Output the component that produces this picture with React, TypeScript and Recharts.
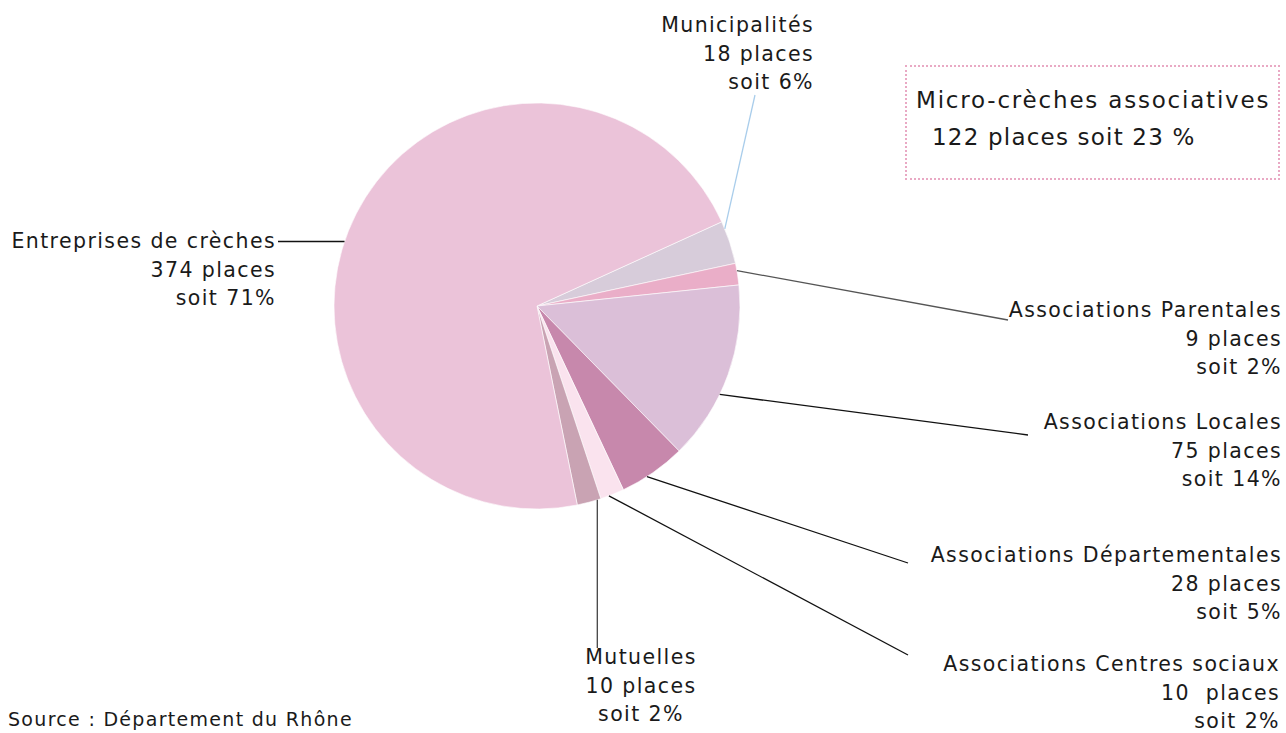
import { PieChart, Pie, Cell } from "recharts";

const names = [
  "Municipalités",
  "Associations Parentales",
  "Associations Locales",
  "Associations Départementales",
  "Associations Centres sociaux",
  "Mutuelles",
  "Entreprises de crèches",
];
const places = [18, 9, 75, 28, 10, 10, 374];
const placeLabels = ["18 places", "9 places", "75 places", "28 places", "10  places", "10 places", "374 places"];
const shareLabels = ["soit 6%", "soit 2%", "soit 14%", "soit 5%", "soit 2%", "soit 2%", "soit 71%"];
const colors = ["#D7CCDA", "#EAAEC8", "#DBBFD8", "#C788AC", "#FAE3EE", "#C9A3B3", "#EBC3D9"];

const data = names.map((name, i) => ({ name, value: places[i] }));

// label placement: text anchor, leader end, angle nudge; "h"/"v" keeps the leader straight
const labelLayout = [
  { x: 814, y: 25, anchor: "end", end: [755, 95], stroke: "#A9CDEB", shift: 4, mode: "" },
  { x: 1282, y: 310, anchor: "end", end: [1008, 320], stroke: "#555", shift: 1, mode: "" },
  { x: 1282, y: 422, anchor: "end", end: [1028, 435], stroke: "#111", shift: -6, mode: "" },
  { x: 1282, y: 555, anchor: "end", end: [908, 563], stroke: "#111", shift: -2, mode: "" },
  { x: 1280, y: 664, anchor: "end", end: [908, 655], stroke: "#111", shift: -1, mode: "" },
  { x: 641, y: 657, anchor: "middle", end: [597, 648], stroke: "#444", shift: 2.4, mode: "v" },
  { x: 276, y: 241, anchor: "end", end: [278, 241], stroke: "#111", shift: 8.5, mode: "h" },
];

const FONT = "'DejaVu Sans', sans-serif";
const RAD = Math.PI / 180;

function renderLabel(props: any) {
  const { cx, cy, midAngle, outerRadius, index } = props;
  const l = labelLayout[index];
  const a = (midAngle + l.shift) * RAD;
  const sx = cx + outerRadius * Math.cos(a);
  const sy = cy - outerRadius * Math.sin(a);
  const ex = l.mode === "v" ? sx : l.end[0];
  const ey = l.mode === "h" ? sy : l.end[1];
  const lines = [names[index], placeLabels[index], shareLabels[index]];
  return (
    <g>
      <line x1={sx} y1={sy} x2={ex} y2={ey} stroke={l.stroke} strokeWidth={1.3} />
      {lines.map((t, k) => (
        <text
          key={k}
          x={l.x}
          y={l.y + k * 28.6}
          textAnchor={l.anchor as any}
          dominantBaseline="central"
          fontFamily={FONT}
          fontSize={20.5}
          letterSpacing={1.4}
          fill="#1a1a1a"
          style={{ whiteSpace: "pre" }}
        >
          {t}
        </text>
      ))}
    </g>
  );
}

export default function App() {
  return (
    <div style={{ position: "absolute", left: 0, top: 0, width: 1286, height: 733, background: "#fff", fontFamily: FONT }}>
      <PieChart width={1286} height={733} margin={{ top: 0, right: 0, bottom: 0, left: 0 }}>
        <Pie
          data={data}
          dataKey="value"
          cx={537}
          cy={306}
          outerRadius={203}
          startAngle={24.5}
          endAngle={-335.5}
          stroke="#fff"
          strokeWidth={0.6}
          label={renderLabel}
          labelLine={false}
          isAnimationActive={false}
        >
          {data.map((d, i) => (
            <Cell key={d.name} fill={colors[i]} />
          ))}
        </Pie>
      </PieChart>

      <div
        style={{
          position: "absolute",
          left: 905,
          top: 65,
          width: 371,
          height: 111,
          border: "2px dotted #E9A9C4",
          color: "#1a1a1a",
        }}
      >
        <div style={{ position: "absolute", left: 9, top: 20, fontSize: 23, letterSpacing: 1.8, whiteSpace: "nowrap" }}>
          Micro-crèches associatives
        </div>
        <div style={{ position: "absolute", left: 25, top: 57, fontSize: 23, letterSpacing: 1.2, whiteSpace: "nowrap" }}>
          122 places soit 23 %
        </div>
      </div>

      <div style={{ position: "absolute", left: 8, top: 708, fontSize: 19, letterSpacing: 1.3, color: "#1a1a1a", whiteSpace: "nowrap" }}>
        Source : Département du Rhône
      </div>
    </div>
  );
}
